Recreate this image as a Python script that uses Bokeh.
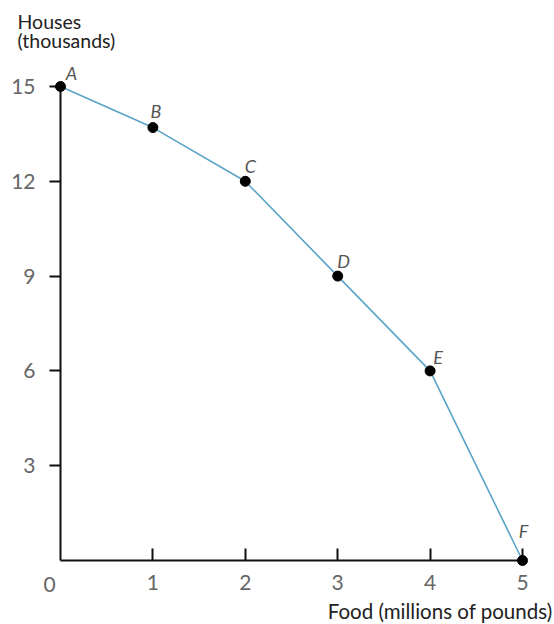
from bokeh.plotting import figure
from bokeh.models import Range1d, FixedTicker, ColumnDataSource
from bokeh.core.properties import value
from bokeh.embed import file_html
from bokeh.resources import INLINE

# ---- data ----
points = ["A", "B", "C", "D", "E", "F"]
food = [0, 1, 2, 3, 4, 5]            # millions of pounds
houses = [15, 13.7, 12, 9, 6, 0]     # thousands
x_ticks = [1, 2, 3, 4, 5]
y_ticks = [3, 6, 9, 12, 15]
x_title = "Food (millions of pounds)"
y_title = ["Houses", "(thousands)"]

# ---- style ----
FONT = "Lato"
LINE_BLUE = "#5aa4c8"
AXIS = "#111111"
TICK_TXT = "#666666"
# screen offsets (px) for point letters (dx right, dy down)
letter_dx = [11, 3, 5, 6, 8, 1]
letter_dy = [-14, -17, -15, -15, -14, -30]

p = figure(width=554, height=624, output_backend="svg", toolbar_location=None,
           x_range=Range1d(0, 5), y_range=Range1d(0, 15),
           min_border_left=60, min_border_right=32,
           min_border_top=86, min_border_bottom=64)
p.outline_line_color = None
p.grid.visible = False

for ax in (p.xaxis[0], p.yaxis[0]):
    ax.axis_line_color = AXIS
    ax.axis_line_width = 2
    ax.major_tick_line_color = AXIS
    ax.major_tick_line_width = 2
    ax.minor_tick_line_color = None
    ax.major_label_text_font = FONT
    ax.major_label_text_font_size = "21px"
    ax.major_label_text_color = TICK_TXT

p.xaxis.ticker = FixedTicker(ticks=x_ticks)
p.xaxis.major_tick_in = 12
p.xaxis.major_tick_out = 0
p.xaxis.major_label_standoff = 14

p.yaxis.ticker = FixedTicker(ticks=y_ticks)
p.yaxis.major_tick_in = 0
p.yaxis.major_tick_out = 11
p.yaxis.major_label_standoff = 14

src = ColumnDataSource(dict(x=food, y=houses, name=points, dx=letter_dx, dy=letter_dy))
p.line("x", "y", source=src, line_color=LINE_BLUE, line_width=1.6, level="overlay")
p.scatter("x", "y", source=src, size=10, fill_color="black", line_color="black",
          level="overlay")
p.text("x", "y", text="name", source=src, x_offset="dx", y_offset="dy",
       text_align="center", text_baseline="middle",
       text_font=value(FONT), text_font_style="italic",
       text_font_size="18px", text_color="#555555", level="overlay")

# origin label "0"
p.text(x=[food[0]], y=[houses[-1]], text=["0"], x_offset=-11, y_offset=24,
       text_align="center", text_baseline="middle",
       text_font=value(FONT), text_font_size="21px", text_color=TICK_TXT,
       level="overlay")

# axis titles
p.text(x=[food[-1]], y=[houses[-1]], text=[x_title], x_offset=30, y_offset=50,
       text_align="right", text_baseline="middle",
       text_font=value(FONT), text_font_size="20.5px", text_color="#222222",
       level="overlay")
p.text(x=[food[0], food[0]], y=[houses[0], houses[0]], text=y_title,
       x_offset=-43, y_offset=[-65, -46],
       text_align="left", text_baseline="middle",
       text_font=value(FONT), text_font_size="19.5px", text_color="#222222",
       level="overlay")

open("out.html", "w").write(file_html(p, INLINE))
